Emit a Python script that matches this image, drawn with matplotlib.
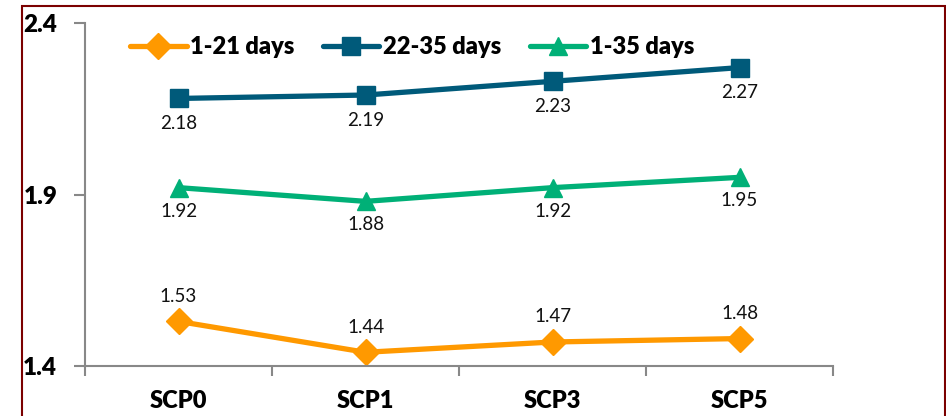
import matplotlib
matplotlib.use("Agg")
import matplotlib.pyplot as plt
from matplotlib.patches import Rectangle

plt.rcParams['font.family'] = ['Lato', 'DejaVu Sans']

# data
categories = ["SCP0", "SCP1", "SCP3", "SCP5"]
d1_21 = [1.53, 1.44, 1.47, 1.48]
d22_35 = [2.18, 2.19, 2.23, 2.27]
d1_35 = [1.92, 1.88, 1.92, 1.95]
series_names = ["1-21 days", "22-35 days", "1-35 days"]
y_ticks = [1.4, 1.9, 2.4]

W, H = 946, 416
fig = plt.figure(figsize=(W / 100, H / 100), dpi=100)
ax = fig.add_axes([85 / W, 1 - 366 / H, (833 - 85) / W, (366 - 23) / H])

x = range(len(categories))
styles = [
    (d1_21, "#FF9900", "D", 13, 18),
    (d22_35, "#005A7A", "s", 13, -18),
    (d1_35, "#00B077", "^", 13, -17),
]
for (vals, col, mk, ms, off), name in zip(styles, series_names):
    ax.plot(x, vals, color=col, lw=3.8, marker=mk, markersize=ms,
            solid_capstyle='round', label=name)
    for xi, v in zip(x, vals):
        ax.annotate(f"{v:.2f}", (xi, v), xytext=(0, off), textcoords='offset points',
                    ha='center', va='center', fontsize=13.5, color='#111111')

ax.set_xlim(-0.5, len(categories) - 0.5)
ax.set_ylim(1.4, 2.4)
ax.set_xticks(list(x))
ax.set_xticklabels(categories, fontsize=17, fontweight='heavy')
ax.set_xticks([i + 0.5 for i in range(-1, len(categories))], minor=True)
ax.tick_params(axis='x', which='major', length=0, pad=17)
ax.tick_params(axis='x', which='minor', length=7, color='#888888', width=1.5)
ax.set_yticks(y_ticks)
ax.set_yticklabels([f"{t}" for t in y_ticks], fontsize=17.5, fontweight='heavy')
ax.tick_params(axis='y', length=8, color='#888888', width=1.5, pad=12)

for s in ['top', 'right']:
    ax.spines[s].set_visible(False)
for s in ['left', 'bottom']:
    ax.spines[s].set_color('#888888')
    ax.spines[s].set_linewidth(1.5)

fig.legend(loc='center', bbox_to_anchor=(412 / W, 1 - 47 / H), ncol=3, frameon=False,
           prop={'size': 17, 'weight': 'heavy'}, handlelength=2.4, handletextpad=0.15,
           columnspacing=1.2, numpoints=1)

# outer border
fig.patches.append(Rectangle((22 / W, -0.05), (945 - 22) / W, 1 - 6 / H + 0.05,
                             transform=fig.transFigure, fill=False,
                             edgecolor='#7B0000', lw=1.5, clip_on=False))

fig.savefig("out.png", dpi=100)
